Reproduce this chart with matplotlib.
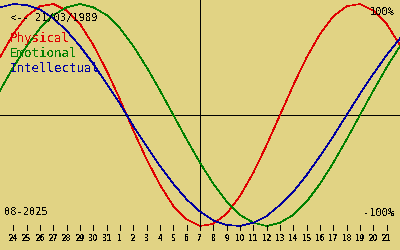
import matplotlib
matplotlib.use("Agg")
import matplotlib.pyplot as plt

# biorhythm values, one per day, from 23/07 to 22/08 (day 0 = 07/08/2025)
offsets = list(range(-15, 16))
physical = [0.52, 0.73, 0.89, 0.98, 1.00, 0.94, 0.82, 0.63, 0.40, 0.14,
            -0.14, -0.40, -0.63, -0.82, -0.94, -1.00, -0.98, -0.89, -0.73, -0.52,
            -0.27, 0.00, 0.27, 0.52, 0.73, 0.89, 0.98, 1.00, 0.94, 0.82, 0.63]
emotional = [0.22, 0.43, 0.62, 0.78, 0.90, 0.97, 1.00, 0.97, 0.90, 0.78,
             0.62, 0.43, 0.22, 0.00, -0.22, -0.43, -0.62, -0.78, -0.90, -0.97,
             -1.00, -0.97, -0.90, -0.78, -0.62, -0.43, -0.22, 0.00, 0.22, 0.43, 0.62]
intellectual = [0.97, 1.00, 0.99, 0.95, 0.87, 0.76, 0.62, 0.46, 0.28, 0.10,
                -0.10, -0.28, -0.46, -0.62, -0.76, -0.87, -0.95, -0.99, -1.00, -0.97,
                -0.91, -0.81, -0.69, -0.54, -0.37, -0.19, 0.00, 0.19, 0.37, 0.54, 0.69]

tick_days = list(range(-14, 15))
day_labels = ["24", "25", "26", "27", "28", "29", "30", "31"] + [str(i) for i in range(1, 22)]

birth_text = "<-- 21/03/1989"
month_text = "08-2025"
series_names = ["Physical", "Emotional", "Intellectual"]
colors = ["#e00000", "#008000", "#0000a0"]
bg = "#e1d384"

plt.rcParams["text.antialiased"] = False
mono = "DejaVu Sans Mono"

fig = plt.figure(figsize=(4, 2.5), dpi=100)
fig.patch.set_facecolor(bg)
ax = fig.add_axes([0, 0, 1, 1])
ax.set_facecolor(bg)
ax.set_xlim(-15, 15)
ax.set_ylim(-1.216, 1.036)
ax.axis("off")

# axes cross
ax.axhline(0, color="black", lw=0.7, antialiased=False)
ax.vlines(0, -1.0, 1.036, color="black", lw=0.7, antialiased=False)

for vals, c in zip([physical, emotional, intellectual], colors):
    ax.plot(offsets, vals, color=c, lw=0.45, antialiased=False)

# day ticks
ax.vlines(tick_days, -0.995, -1.04, color="black", lw=0.7, antialiased=False)
for d, lab in zip(tick_days, day_labels):
    ax.text(d, -1.115, lab, ha="center", va="center", fontsize=5.6,
            family=mono, fontweight="bold", color="black")

ax.text(0.025, 0.93, birth_text, transform=ax.transAxes, ha="left", va="center",
        fontsize=7.5, family=mono, color="black")
for i, (name, c) in enumerate(zip(series_names, colors)):
    ax.text(0.025, 0.845 - i * 0.06, name, transform=ax.transAxes, ha="left",
            va="center", fontsize=9, family=mono, color=c)

ax.text(0.987, 0.952, "100%", transform=ax.transAxes, ha="right", va="center",
        fontsize=7.5, family=mono, color="black")
ax.text(0.987, 0.148, "-100%", transform=ax.transAxes, ha="right", va="center",
        fontsize=7.5, family=mono, color="black")
ax.text(0.01, 0.152, month_text, transform=ax.transAxes, ha="left", va="center",
        fontsize=7.5, family=mono, color="black")

fig.savefig("out.png", dpi=100, facecolor=bg)
